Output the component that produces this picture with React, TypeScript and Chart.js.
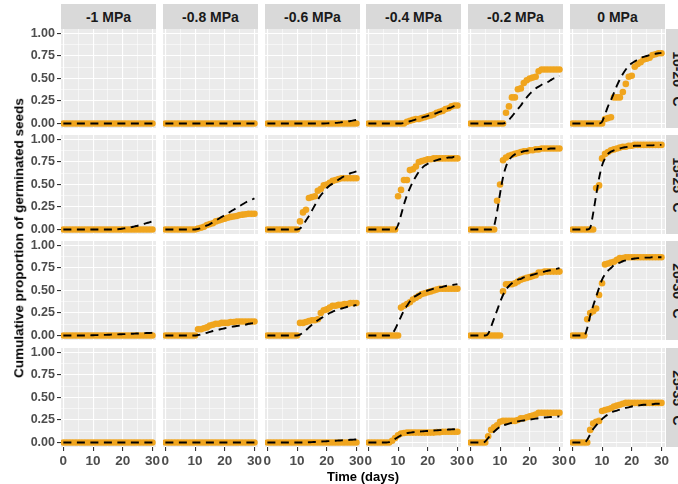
import React, { useEffect, useRef } from "react";
import { Chart, registerables } from "chart.js";

Chart.register(...registerables);

// ---------------- data ----------------
const DAYS = [0, 1, 2, 3, 4, 5, 6, 7, 8, 9, 10, 11, 12, 13, 14, 15, 16, 17, 18, 19, 20, 21, 22, 23, 24, 25, 26, 27, 28, 29, 30];

const PSI_LABELS = ["-1 MPa", "-0.8 MPa", "-0.6 MPa", "-0.4 MPa", "-0.2 MPa", "0 MPa"];
const TEMP_LABELS = ["10-20 °C", "15-25 °C", "20-30 °C", "25-35 °C"];

const X_MAJOR = [0, 10, 20, 30];
const X_MINOR = [5, 15, 25];
const Y_MAJOR = [0, 0.25, 0.5, 0.75, 1];
const Y_MINOR = [0.125, 0.375, 0.625, 0.875];

const ZERO = [0, 0, 0, 0, 0, 0, 0, 0, 0, 0, 0, 0, 0, 0, 0, 0, 0, 0, 0, 0, 0, 0, 0, 0, 0, 0, 0, 0, 0, 0, 0];

// 10-20 °C
const obs1020_m1 = ZERO;
const fit1020_m1 = ZERO;
const obs1020_m08 = ZERO;
const fit1020_m08 = ZERO;
const obs1020_m06 = ZERO;
const fit1020_m06 = [0, 0, 0, 0, 0, 0, 0, 0, 0, 0, 0, 0, 0, 0, 0, 0, 0, 0, 0, 0, 0.001, 0.003, 0.005, 0.007, 0.01, 0.014, 0.018, 0.023, 0.028, 0.034, 0.04];
const obs1020_m04 = [0, 0, 0, 0, 0, 0, 0, 0, 0, 0, 0, 0, 0, 0.02, 0.03, 0.04, 0.05, 0.05, 0.06, 0.07, 0.08, 0.09, 0.1, 0.12, 0.13, 0.14, 0.16, 0.17, 0.19, 0.2, 0.2];
const fit1020_m04 = [0, 0, 0, 0, 0, 0, 0, 0, 0, 0, 0, 0, 0.005, 0.015, 0.025, 0.035, 0.045, 0.055, 0.065, 0.075, 0.085, 0.095, 0.105, 0.115, 0.13, 0.14, 0.155, 0.17, 0.18, 0.195, 0.21];
const obs1020_m02 = [0, 0, 0, 0, 0, 0, 0, 0, 0, 0, 0, 0, 0.12, 0.19, 0.29, 0.29, 0.38, 0.39, 0.45, 0.48, 0.5, 0.51, 0.52, 0.58, 0.6, 0.6, 0.6, 0.6, 0.6, 0.6, 0.6];
const fit1020_m02 = [0, 0, 0, 0, 0, 0, 0, 0, 0, 0, 0, 0, 0.01, 0.04, 0.08, 0.12, 0.16, 0.2, 0.25, 0.29, 0.33, 0.36, 0.39, 0.41, 0.43, 0.45, 0.46, 0.48, 0.5, 0.51, 0.53];
const obs1020_p0 = [0, 0, 0, 0, 0, 0, 0, 0, 0, 0, 0, 0.05, 0.06, 0.07, 0.29, 0.29, 0.29, 0.35, 0.44, 0.52, 0.53, 0.63, 0.66, 0.68, 0.71, 0.72, 0.73, 0.76, 0.77, 0.78, 0.78];
const fit1020_p0 = [0, 0, 0, 0, 0, 0, 0, 0, 0, 0, 0.02, 0.1, 0.19, 0.26, 0.34, 0.42, 0.49, 0.55, 0.6, 0.64, 0.67, 0.69, 0.71, 0.73, 0.74, 0.75, 0.76, 0.77, 0.775, 0.78, 0.785];

// 15-25 °C
const obs1525_m1 = ZERO;
const fit1525_m1 = [0, 0, 0, 0, 0, 0, 0, 0, 0, 0, 0, 0, 0, 0, 0, 0, 0, 0, 0.002, 0.005, 0.01, 0.015, 0.02, 0.027, 0.035, 0.042, 0.05, 0.06, 0.07, 0.08, 0.09];
const obs1525_m08 = [0, 0, 0, 0, 0, 0, 0, 0, 0, 0, 0, 0.01, 0.02, 0.03, 0.05, 0.06, 0.07, 0.09, 0.1, 0.11, 0.12, 0.13, 0.14, 0.145, 0.15, 0.16, 0.165, 0.17, 0.175, 0.175, 0.175];
const fit1525_m08 = [0, 0, 0, 0, 0, 0, 0, 0, 0, 0, 0, 0.005, 0.015, 0.03, 0.045, 0.06, 0.08, 0.1, 0.12, 0.14, 0.16, 0.18, 0.2, 0.22, 0.24, 0.26, 0.28, 0.3, 0.315, 0.33, 0.345];
const obs1525_m06 = [0, 0, 0, 0, 0, 0, 0, 0, 0, 0, 0, 0.09, 0.19, 0.22, 0.35, 0.36, 0.37, 0.43, 0.45, 0.49, 0.5, 0.52, 0.54, 0.55, 0.56, 0.57, 0.57, 0.57, 0.57, 0.57, 0.57];
const fit1525_m06 = [0, 0, 0, 0, 0, 0, 0, 0, 0, 0, 0, 0.01, 0.05, 0.1, 0.15, 0.21, 0.27, 0.33, 0.38, 0.42, 0.46, 0.49, 0.51, 0.53, 0.555, 0.575, 0.595, 0.61, 0.625, 0.635, 0.645];
const obs1525_m04 = [0, 0, 0, 0, 0, 0, 0, 0, 0, 0, 0.37, 0.44, 0.55, 0.55, 0.66, 0.67, 0.7, 0.75, 0.76, 0.77, 0.78, 0.78, 0.79, 0.79, 0.79, 0.79, 0.79, 0.79, 0.79, 0.79, 0.79];
const fit1525_m04 = [0, 0, 0, 0, 0, 0, 0, 0, 0, 0, 0.05, 0.16, 0.28, 0.38, 0.46, 0.53, 0.59, 0.64, 0.68, 0.71, 0.73, 0.75, 0.76, 0.77, 0.78, 0.785, 0.79, 0.8, 0.8, 0.81, 0.81];
const obs1525_m02 = [0, 0, 0, 0, 0, 0, 0, 0, 0, 0.32, 0.5, 0.77, 0.8, 0.82, 0.83, 0.84, 0.85, 0.86, 0.87, 0.87, 0.88, 0.88, 0.89, 0.89, 0.9, 0.9, 0.9, 0.9, 0.9, 0.9, 0.9];
const fit1525_m02 = [0, 0, 0, 0, 0, 0, 0, 0, 0.04, 0.2, 0.4, 0.58, 0.7, 0.77, 0.81, 0.835, 0.85, 0.86, 0.87, 0.875, 0.88, 0.885, 0.89, 0.895, 0.895, 0.895, 0.895, 0.9, 0.9, 0.9, 0.9];
const obs1525_p0 = [0, 0, 0, 0, 0, 0, 0, 0, 0.46, 0.49, 0.79, 0.84, 0.86, 0.88, 0.89, 0.9, 0.91, 0.92, 0.92, 0.93, 0.93, 0.94, 0.94, 0.94, 0.94, 0.94, 0.94, 0.94, 0.94, 0.94, 0.94];
const fit1525_p0 = [0, 0, 0, 0, 0, 0, 0.02, 0.18, 0.38, 0.57, 0.71, 0.79, 0.84, 0.865, 0.88, 0.89, 0.9, 0.91, 0.915, 0.92, 0.925, 0.93, 0.93, 0.93, 0.93, 0.935, 0.935, 0.935, 0.94, 0.94, 0.94];

// 20-30 °C
const obs2030_m1 = ZERO;
const fit2030_m1 = [0, 0, 0, 0, 0, 0, 0, 0, 0, 0.001, 0.003, 0.004, 0.005, 0.006, 0.007, 0.008, 0.01, 0.011, 0.012, 0.014, 0.015, 0.016, 0.018, 0.019, 0.021, 0.022, 0.024, 0.025, 0.027, 0.028, 0.03];
const obs2030_m08 = [0, 0, 0, 0, 0, 0, 0, 0, 0, 0, 0, 0.07, 0.07, 0.08, 0.09, 0.11, 0.12, 0.13, 0.13, 0.14, 0.14, 0.14, 0.15, 0.15, 0.155, 0.155, 0.155, 0.155, 0.155, 0.155, 0.155];
const fit2030_m08 = [0, 0, 0, 0, 0, 0, 0, 0, 0, 0, 0, 0.005, 0.01, 0.02, 0.03, 0.04, 0.05, 0.058, 0.065, 0.073, 0.08, 0.088, 0.095, 0.1, 0.105, 0.11, 0.115, 0.12, 0.13, 0.135, 0.14];
const obs2030_m06 = [0, 0, 0, 0, 0, 0, 0, 0, 0, 0, 0, 0.14, 0.14, 0.15, 0.16, 0.17, 0.17, 0.18, 0.25, 0.28, 0.29, 0.31, 0.33, 0.33, 0.34, 0.34, 0.35, 0.35, 0.36, 0.36, 0.36];
const fit2030_m06 = [0, 0, 0, 0, 0, 0, 0, 0, 0, 0, 0, 0.01, 0.03, 0.06, 0.09, 0.12, 0.145, 0.17, 0.19, 0.21, 0.23, 0.25, 0.265, 0.28, 0.29, 0.3, 0.31, 0.32, 0.325, 0.33, 0.34];
const obs2030_m04 = [0, 0, 0, 0, 0, 0, 0, 0, 0, 0, 0, 0.31, 0.33, 0.35, 0.37, 0.4, 0.42, 0.44, 0.46, 0.47, 0.48, 0.49, 0.5, 0.51, 0.52, 0.52, 0.52, 0.52, 0.52, 0.52, 0.52];
const fit2030_m04 = [0, 0, 0, 0, 0, 0, 0, 0, 0.02, 0.07, 0.14, 0.21, 0.28, 0.33, 0.38, 0.42, 0.44, 0.46, 0.48, 0.49, 0.5, 0.51, 0.52, 0.53, 0.535, 0.54, 0.55, 0.555, 0.56, 0.565, 0.57];
const obs2030_m02 = [0, 0, 0, 0, 0, 0, 0, 0, 0, 0, 0, 0.49, 0.57, 0.57, 0.57, 0.58, 0.6, 0.62, 0.63, 0.64, 0.65, 0.66, 0.67, 0.7, 0.7, 0.71, 0.71, 0.71, 0.71, 0.71, 0.71];
const fit2030_m02 = [0, 0, 0, 0, 0, 0, 0.02, 0.1, 0.19, 0.28, 0.37, 0.45, 0.51, 0.55, 0.58, 0.6, 0.62, 0.63, 0.645, 0.655, 0.665, 0.675, 0.685, 0.695, 0.705, 0.71, 0.72, 0.725, 0.735, 0.74, 0.75];
const obs2030_p0 = [0, 0, 0, 0, 0, 0.18, 0.25, 0.27, 0.3, 0.45, 0.58, 0.79, 0.8, 0.81, 0.82, 0.84, 0.86, 0.86, 0.87, 0.87, 0.87, 0.87, 0.87, 0.87, 0.87, 0.87, 0.87, 0.87, 0.87, 0.87, 0.87];
const fit2030_p0 = [0, 0, 0, 0, 0, 0.08, 0.22, 0.33, 0.43, 0.53, 0.62, 0.68, 0.72, 0.75, 0.78, 0.8, 0.81, 0.825, 0.835, 0.845, 0.85, 0.855, 0.86, 0.86, 0.865, 0.865, 0.865, 0.87, 0.87, 0.87, 0.87];

// 25-35 °C
const obs2535_m1 = ZERO;
const fit2535_m1 = ZERO;
const obs2535_m08 = ZERO;
const fit2535_m08 = ZERO;
const obs2535_m06 = ZERO;
const fit2535_m06 = [0, 0, 0, 0, 0, 0, 0, 0, 0, 0, 0, 0, 0, 0, 0.002, 0.004, 0.006, 0.008, 0.01, 0.012, 0.014, 0.016, 0.018, 0.02, 0.022, 0.024, 0.026, 0.028, 0.03, 0.032, 0.034];
const obs2535_m04 = [0, 0, 0, 0, 0, 0, 0, 0, 0.02, 0.05, 0.08, 0.1, 0.105, 0.11, 0.11, 0.11, 0.11, 0.11, 0.11, 0.11, 0.11, 0.11, 0.11, 0.115, 0.115, 0.12, 0.12, 0.12, 0.12, 0.12, 0.12];
const fit2535_m04 = [0, 0, 0, 0, 0, 0, 0, 0.005, 0.02, 0.04, 0.06, 0.08, 0.095, 0.105, 0.11, 0.114, 0.118, 0.121, 0.124, 0.126, 0.128, 0.13, 0.133, 0.135, 0.137, 0.14, 0.142, 0.144, 0.146, 0.148, 0.15];
const obs2535_m02 = [0, 0, 0, 0, 0, 0, 0.07, 0.14, 0.17, 0.19, 0.23, 0.24, 0.24, 0.24, 0.24, 0.24, 0.25, 0.27, 0.27, 0.28, 0.29, 0.3, 0.31, 0.33, 0.33, 0.33, 0.33, 0.33, 0.33, 0.33, 0.33];
const fit2535_m02 = [0, 0, 0, 0, 0, 0.01, 0.05, 0.09, 0.12, 0.15, 0.175, 0.19, 0.2, 0.21, 0.22, 0.23, 0.235, 0.24, 0.245, 0.25, 0.255, 0.26, 0.265, 0.27, 0.275, 0.278, 0.28, 0.283, 0.285, 0.288, 0.29];
const obs2535_p0 = [0, 0, 0, 0, 0, 0, 0.14, 0.21, 0.23, 0.24, 0.35, 0.36, 0.37, 0.38, 0.4, 0.41, 0.42, 0.43, 0.44, 0.44, 0.44, 0.44, 0.44, 0.44, 0.44, 0.44, 0.44, 0.44, 0.44, 0.44, 0.44];
const fit2535_p0 = [0, 0, 0, 0, 0, 0.03, 0.09, 0.15, 0.19, 0.23, 0.26, 0.29, 0.31, 0.33, 0.345, 0.355, 0.365, 0.375, 0.385, 0.39, 0.4, 0.405, 0.41, 0.415, 0.42, 0.42, 0.425, 0.425, 0.43, 0.43, 0.43];

const OBS_GRID = [
  [obs1020_m1, obs1020_m08, obs1020_m06, obs1020_m04, obs1020_m02, obs1020_p0],
  [obs1525_m1, obs1525_m08, obs1525_m06, obs1525_m04, obs1525_m02, obs1525_p0],
  [obs2030_m1, obs2030_m08, obs2030_m06, obs2030_m04, obs2030_m02, obs2030_p0],
  [obs2535_m1, obs2535_m08, obs2535_m06, obs2535_m04, obs2535_m02, obs2535_p0],
];
const FIT_GRID = [
  [fit1020_m1, fit1020_m08, fit1020_m06, fit1020_m04, fit1020_m02, fit1020_p0],
  [fit1525_m1, fit1525_m08, fit1525_m06, fit1525_m04, fit1525_m02, fit1525_p0],
  [fit2030_m1, fit2030_m08, fit2030_m06, fit2030_m04, fit2030_m02, fit2030_p0],
  [fit2535_m1, fit2535_m08, fit2535_m06, fit2535_m04, fit2535_m02, fit2535_p0],
];

// ---------------- layout / style ----------------
const FONT = "'Liberation Sans', Arial, Helvetica, sans-serif";
const COL_LEFT = [61, 163, 265, 366, 468, 570];
const ROW_TOP = [29, 135, 241, 348];
const PANEL_W = 95;
const PANEL_H = 99;
const PAD = 10;
const Y_AXIS_W = 61;
const X_AXIS_H = 484 - (ROW_TOP[3] + PANEL_H);
const ORANGE = "#F0A51E";

const bgPlugin = {
  id: "panelBg",
  beforeDraw(chart: any) {
    const { ctx, chartArea } = chart;
    if (!chartArea) return;
    ctx.save();
    ctx.fillStyle = "#EBEBEB";
    ctx.fillRect(chartArea.left, chartArea.top, chartArea.right - chartArea.left, chartArea.bottom - chartArea.top);
    ctx.restore();
  },
};

function Panel({ row, col }: { row: number; col: number }) {
  const ref = useRef<HTMLCanvasElement | null>(null);
  const isLeft = col === 0;
  const isBottom = row === 3;
  const canvasLeft = isLeft ? COL_LEFT[0] - Y_AXIS_W : COL_LEFT[col] - PAD;
  const canvasTop = ROW_TOP[row] - PAD;
  const canvasW = (isLeft ? Y_AXIS_W : PAD) + PANEL_W + PAD;
  const canvasH = PAD + PANEL_H + (isBottom ? X_AXIS_H : PAD);

  useEffect(() => {
    const canvas = ref.current;
    if (!canvas) return;
    const obs = OBS_GRID[row][col];
    const fit = FIT_GRID[row][col];
    const obsPts = DAYS.map((d, i) => ({ x: d, y: obs[i] }));
    const fitPts = DAYS.map((d, i) => ({ x: d, y: fit[i] }));
    const xTicks = [...X_MAJOR, ...X_MINOR].sort((a, b) => a - b);
    const yTicks = [...Y_MAJOR, ...Y_MINOR].sort((a, b) => a - b);
    const isXMajor = (v: number) => X_MAJOR.includes(v);
    const isYMajor = (v: number) => Y_MAJOR.includes(v);

    const chart = new Chart(canvas, {
      type: "line",
      data: {
        datasets: [
          {
            data: fitPts,
            borderColor: "#000000",
            borderWidth: 1.9,
            borderDash: [8, 5.5],
            pointRadius: 0,
            fill: false,
            cubicInterpolationMode: "monotone",
            order: 0,
          },
          {
            data: obsPts,
            showLine: false,
            pointRadius: 3.3,
            pointBackgroundColor: ORANGE,
            pointBorderWidth: 0,
            borderColor: ORANGE,
            order: 1,
          },
        ],
      } as any,
      options: {
        animation: false,
        responsive: false,
        maintainAspectRatio: false,
        devicePixelRatio: 1,
        events: [],
        layout: {
          padding: {
            left: isLeft ? 0 : PAD,
            right: PAD,
            top: PAD,
            bottom: isBottom ? 0 : PAD,
          },
        },
        plugins: { legend: { display: false }, tooltip: { enabled: false }, title: { display: false } },
        scales: {
          x: {
            type: "linear",
            min: -0.8,
            max: 31.2,
            afterBuildTicks: (s: any) => {
              s.ticks = xTicks.map((v) => ({ value: v }));
            },
            afterFit: (s: any) => {
              s.height = isBottom ? X_AXIS_H : 0;
              s.paddingLeft = 0;
              s.paddingRight = 0;
              s.paddingTop = 0;
              s.paddingBottom = 0;
            },
            border: { display: false },
            grid: {
              color: "#FFFFFF",
              lineWidth: (ctx: any) => (ctx.tick && isXMajor(ctx.tick.value) ? 1.1 : 0.55),
              drawTicks: isBottom,
              tickLength: 4,
              tickWidth: 1.1,
              tickColor: (ctx: any) => (ctx.tick && isXMajor(ctx.tick.value) ? "#333333" : "rgba(0,0,0,0)"),
            },
            ticks: {
              display: isBottom,
              autoSkip: false,
              maxRotation: 0,
              padding: 2,
              color: "#4D4D4D",
              font: { family: FONT, size: 13.5, weight: "bold" },
              callback: (v: any) => (isXMajor(Number(v)) ? String(v) : ""),
            },
          },
          y: {
            type: "linear",
            position: "left",
            min: -0.05,
            max: 1.05,
            afterBuildTicks: (s: any) => {
              s.ticks = yTicks.map((v) => ({ value: v }));
            },
            afterFit: (s: any) => {
              s.width = isLeft ? Y_AXIS_W : 0;
              s.paddingLeft = 0;
              s.paddingRight = 0;
              s.paddingTop = 0;
              s.paddingBottom = 0;
            },
            border: { display: false },
            grid: {
              color: "#FFFFFF",
              lineWidth: (ctx: any) => (ctx.tick && isYMajor(ctx.tick.value) ? 1.1 : 0.55),
              drawTicks: isLeft,
              tickLength: 4,
              tickWidth: 1.1,
              tickColor: (ctx: any) => (ctx.tick && isYMajor(ctx.tick.value) ? "#333333" : "rgba(0,0,0,0)"),
            },
            ticks: {
              display: isLeft,
              autoSkip: false,
              padding: 2,
              color: "#4D4D4D",
              font: { family: FONT, size: 12.5, weight: "bold" },
              callback: (v: any) => (isYMajor(Number(v)) ? Number(v).toFixed(2) : ""),
            },
          },
        },
      } as any,
      plugins: [bgPlugin],
    });
    return () => chart.destroy();
  }, [row, col]);

  return (
    <canvas
      ref={ref}
      width={canvasW}
      height={canvasH}
      style={{ position: "absolute", left: canvasLeft, top: canvasTop, width: canvasW, height: canvasH }}
    />
  );
}

export default function App() {
  const panels = [];
  for (let r = 0; r < 4; r++) {
    for (let c = 0; c < 6; c++) {
      panels.push(<Panel key={`${r}-${c}`} row={r} col={c} />);
    }
  }
  return (
    <div
      style={{
        position: "relative",
        width: 678,
        height: 484,
        overflow: "hidden",
        background: "#FFFFFF",
        fontFamily: FONT,
      }}
    >
      <style>{`body{margin:0;}`}</style>
      {PSI_LABELS.map((lab, c) => (
        <div
          key={lab}
          style={{
            position: "absolute",
            left: COL_LEFT[c],
            top: 4,
            width: PANEL_W,
            height: 25,
            background: "#D9D9D9",
            display: "flex",
            alignItems: "center",
            justifyContent: "center",
            fontWeight: "bold",
            fontSize: 14,
            color: "#1A1A1A",
            whiteSpace: "nowrap",
          }}
        >
          {lab}
        </div>
      ))}
      {TEMP_LABELS.map((lab, r) => (
        <div
          key={lab}
          style={{
            position: "absolute",
            left: 666,
            top: ROW_TOP[r],
            width: 24,
            height: PANEL_H,
            background: "#D9D9D9",
          }}
        >
          <div
            style={{
              position: "absolute",
              left: "50%",
              top: "50%",
              transform: "translate(-50%, -50%) rotate(90deg)",
              fontWeight: "bold",
              fontSize: 14,
              lineHeight: 1,
              color: "#1A1A1A",
              whiteSpace: "nowrap",
            }}
          >
            {lab}
          </div>
        </div>
      ))}
      {panels}
      <div
        style={{
          position: "absolute",
          left: 18.5,
          top: 238,
          transform: "translate(-50%, -50%) rotate(-90deg)",
          fontWeight: "bold",
          fontSize: 13.5,
          lineHeight: 1,
          color: "#000000",
          whiteSpace: "nowrap",
        }}
      >
        Cumulative proportion of germinated seeds
      </div>
      <div
        style={{
          position: "absolute",
          left: 363,
          top: 476,
          transform: "translate(-50%, -50%)",
          fontWeight: "bold",
          fontSize: 13,
          lineHeight: 1,
          color: "#000000",
          whiteSpace: "nowrap",
        }}
      >
        Time (days)
      </div>
    </div>
  );
}
